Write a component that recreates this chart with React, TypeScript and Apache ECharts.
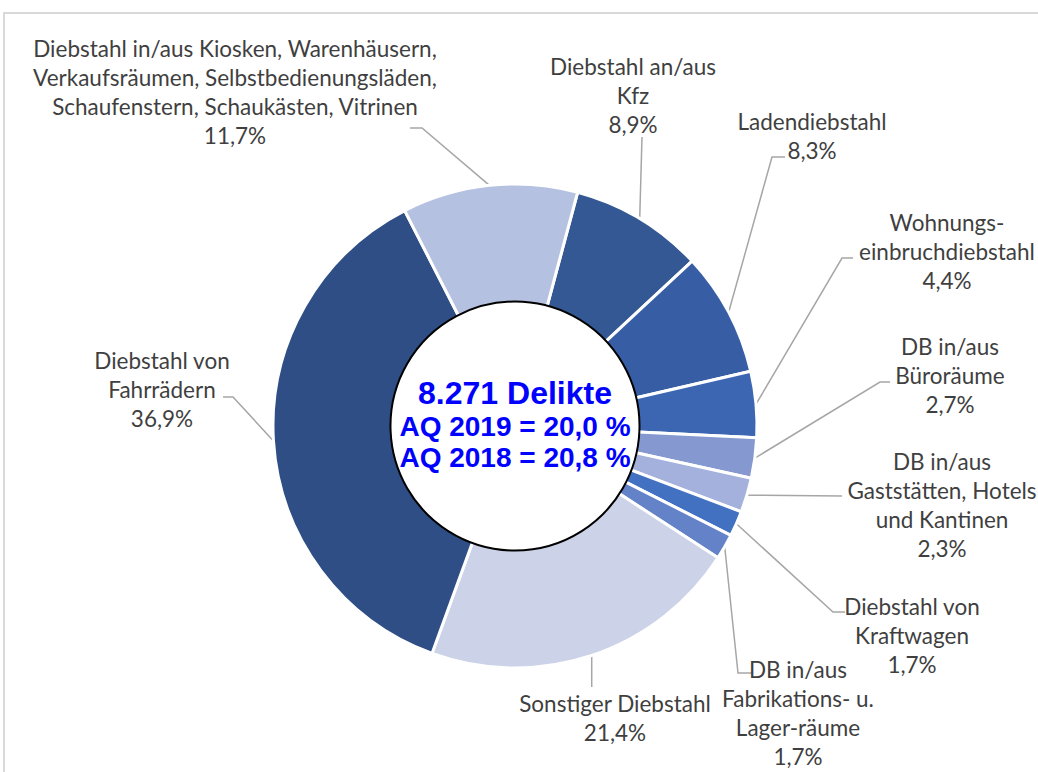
import React, { useEffect, useRef } from 'react';
import * as echarts from 'echarts';

// ---- data ----
const categories = [
  'Diebstahl an/aus\nKfz',
  'Ladendiebstahl',
  'Wohnungs-\neinbruchdiebstahl',
  'DB in/aus\nBüroräume',
  'DB in/aus\nGaststätten, Hotels\nund Kantinen',
  'Diebstahl von\nKraftwagen',
  'DB in/aus\nFabrikations- u.\nLager-räume',
  'Sonstiger Diebstahl',
  'Diebstahl von\nFahrrädern',
  'Diebstahl in/aus Kiosken, Warenhäusern,\nVerkaufsräumen, Selbstbedienungsläden,\nSchaufenstern, Schaukästen, Vitrinen',
];
const shares = [8.9, 8.3, 4.4, 2.7, 2.3, 1.7, 1.7, 21.4, 36.9, 11.7];
const centerLines = ['8.271 Delikte', 'AQ 2019 = 20,0 %', 'AQ 2018 = 20,8 %'];

// ---- styles ----
const colors = [
  '#345894', '#375EA5', '#3C66B2', '#8598D0', '#A3B1DC',
  '#4371C1', '#6482C8', '#CCD3E8', '#2E4E85', '#B5C1E0',
];
const CX = 515;
const CY = 426;
// label placement: text center (x, y) and leader-line bend points
const labelPlace: { x: number; y: number; pts: (number | null)[][] }[] = [
  { x: 633, y: 95, pts: [[642, 137]] },
  { x: 812, y: 136, pts: [[772, 157], [785, 157]] },
  { x: 947, y: 251, pts: [[842, 258], [853, 258]] },
  { x: 950, y: 375.5, pts: [[880, 382], [890, 382]] },
  { x: 942, y: 504.5, pts: [[842, 496]] },
  { x: 912, y: 635, pts: [[833, 612], [845, 612]] },
  { x: 798, y: 713, pts: [[738, 673], [752, 673]] },
  { x: 615, y: 718, pts: [[null, 687]] },
  { x: 162, y: 389, pts: [[233, 397], [223, 397]] },
  { x: 235, y: 91.5, pts: [[422, 128], [410, 128]] },
];

export default function App() {
  const ref = useRef<HTMLDivElement>(null);
  useEffect(() => {
    if (!ref.current) return;
    const chart = echarts.init(ref.current, null, { renderer: 'svg' });
    chart.setOption({
      animation: false,
      graphic: [
        {
          type: 'rect',
          silent: true,
          z: -10,
          shape: { x: 4, y: 13, width: 1100, height: 800 },
          style: { fill: 'none', stroke: '#d9d9d9', lineWidth: 2 },
        },
      ],
      series: [
        {
          type: 'pie',
          center: [CX, CY],
          radius: [118, 242],
          startAngle: 75,
          clockwise: true,
          avoidLabelOverlap: false,
          silent: true,
          emphasis: { disabled: true },
          itemStyle: { borderColor: '#ffffff', borderWidth: 3 },
          label: {
            show: true,
            position: 'outside',
            fontFamily: 'Lato',
            fontSize: 22.5,
            lineHeight: 29,
            color: '#3f3f3f',
            align: 'center',
            formatter: (p: any) => `${p.name}\n${String(p.value).replace('.', ',')}%`,
          },
          labelLine: {
            show: true,
            length: 10,
            length2: 10,
            smooth: false,
            lineStyle: { color: '#a6a6a6', width: 1.5 },
          },
          labelLayout: (params: any) => {
            const place = labelPlace[params.dataIndex];
            const p0 = params.labelLinePoints && params.labelLinePoints[0];
            const start = p0 ? [p0[0], p0[1]] : [CX, CY];
            const pts = [start].concat(
              place.pts.map((q) => [q[0] == null ? start[0] : (q[0] as number), q[1] as number])
            );
            return {
              x: place.x,
              y: place.y,
              align: 'center',
              verticalAlign: 'middle',
              labelLinePoints: pts,
            };
          },
          data: categories.map((name, i) => ({
            name,
            value: shares[i],
            itemStyle: { color: colors[i] },
          })),
        },
        {
          type: 'pie',
          center: [CX, CY],
          radius: [0, 124.5],
          silent: true,
          emphasis: { disabled: true },
          itemStyle: { color: '#ffffff', borderColor: '#000000', borderWidth: 2 },
          label: {
            show: true,
            position: 'center',
            padding: [0, 0, 4, 0],
            formatter: () =>
              `{a|${centerLines[0]}}\n{b|${centerLines[1]}}\n{b|${centerLines[2]}}`,
            rich: {
              a: {
                fontFamily: 'Liberation Sans',
                fontWeight: 'bold',
                fontSize: 32,
                lineHeight: 36,
                color: '#0000ff',
              },
              b: {
                fontFamily: 'Liberation Sans',
                fontWeight: 'bold',
                fontSize: 28,
                lineHeight: 31,
                color: '#0000ff',
              },
            },
          },
          labelLine: { show: false },
          data: [{ name: 'center', value: 1 }],
        },
      ],
    });
    return () => chart.dispose();
  }, []);
  return (
    <div
      ref={ref}
      style={{ position: 'absolute', left: 0, top: 0, width: 1038, height: 772, background: '#fff' }}
    />
  );
}
